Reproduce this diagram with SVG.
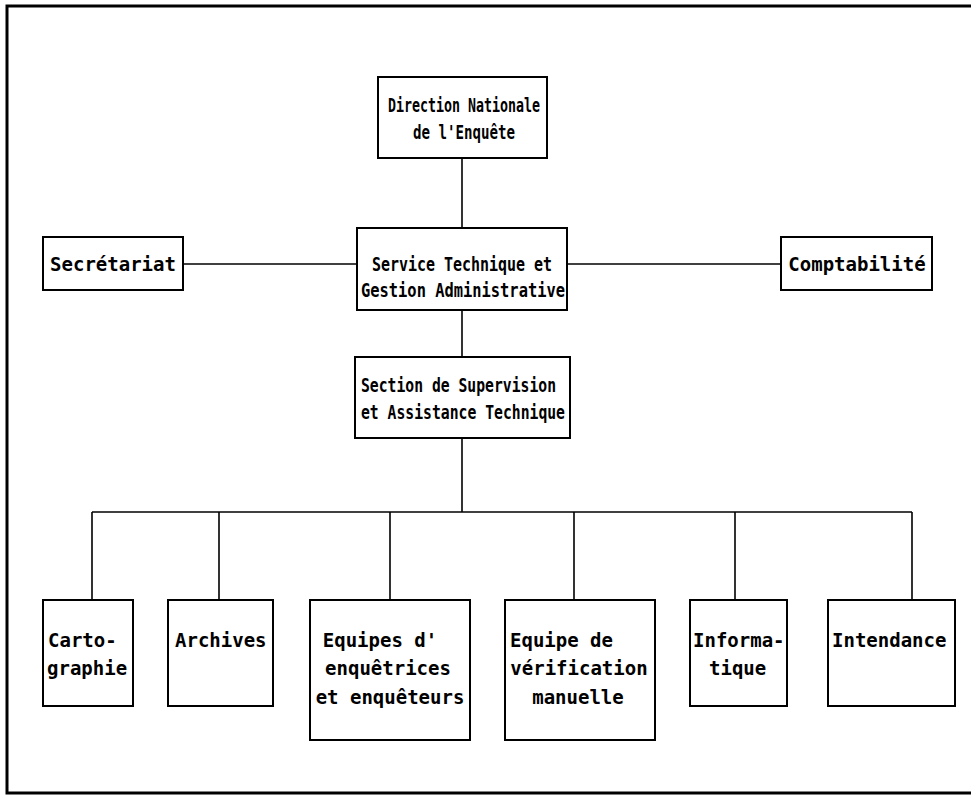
<svg xmlns="http://www.w3.org/2000/svg" width="971" height="795" viewBox="0 0 971 795">
<style>
.bx{fill:#fff;stroke:#000;stroke-width:2}
.ln{stroke:#000;stroke-width:1.6;fill:none}
.fr{stroke:#000;stroke-width:3;fill:none}
text{font-family:"DejaVu Sans Mono","Liberation Mono",monospace;font-size:19px;font-weight:bold;fill:#000}
.c{text-anchor:middle}
</style>
<rect width="971" height="795" fill="#fff"/>
<g id="frame"><path class="fr" d="M971,6 H7 V793 H971"/></g>
<g id="connectors">
<path class="ln" d="M462,158 V228"/>
<path class="ln" d="M183,264 H357"/>
<path class="ln" d="M567,264 H781"/>
<path class="ln" d="M462,310 V357"/>
<path class="ln" d="M462,438 V512"/>
<path class="ln" d="M92,512 H912"/>
<path class="ln" d="M92,512 V600 M219,512 V600 M390,512 V600 M574,512 V600 M735,512 V600 M912,512 V600"/>
</g>
<g id="direction"><rect class="bx" x="378" y="77" width="169" height="81"/>
<text x="388" y="112" textLength="152" lengthAdjust="spacingAndGlyphs">Direction Nationale</text>
<text x="413" y="139" textLength="102" lengthAdjust="spacingAndGlyphs">de l'Enquête</text></g>
<g id="secretariat"><rect class="bx" x="43" y="237" width="140" height="53"/>
<text class="c" x="113" y="271">Secrétariat</text></g>
<g id="service"><rect class="bx" x="357" y="228" width="210" height="82"/>
<text x="372" y="271" textLength="180" lengthAdjust="spacingAndGlyphs">Service Technique et</text>
<text x="361" y="297" textLength="204" lengthAdjust="spacingAndGlyphs">Gestion Administrative</text></g>
<g id="comptabilite"><rect class="bx" x="781" y="237" width="151" height="53"/>
<text class="c" x="857" y="271">Comptabilité</text></g>
<g id="section"><rect class="bx" x="355" y="357" width="215" height="81"/>
<text x="361" y="392" textLength="195" lengthAdjust="spacingAndGlyphs">Section de Supervision</text>
<text x="361" y="419" textLength="204" lengthAdjust="spacingAndGlyphs">et Assistance Technique</text></g>
<g id="cartographie"><rect class="bx" x="43" y="600" width="90" height="106"/>
<text x="48" y="647">Carto-</text>
<text x="47" y="675">graphie</text></g>
<g id="archives"><rect class="bx" x="168" y="600" width="105" height="106"/>
<text x="175" y="647">Archives</text></g>
<g id="equipes"><rect class="bx" x="310" y="600" width="160" height="140"/>
<text class="c" x="380" y="647">Equipes d'</text>
<text class="c" x="388" y="675">enquêtrices</text>
<text class="c" x="390" y="704">et enquêteurs</text></g>
<g id="verification"><rect class="bx" x="505" y="600" width="150" height="140"/>
<text x="510" y="647">Equipe de</text>
<text class="c" x="579" y="675">vérification</text>
<text class="c" x="578" y="704">manuelle</text></g>
<g id="informatique"><rect class="bx" x="690" y="600" width="97" height="106"/>
<text x="693" y="647">Informa-</text>
<text x="709" y="675">tique</text></g>
<g id="intendance"><rect class="bx" x="828" y="600" width="127" height="106"/>
<text x="832" y="647">Intendance</text></g>
</svg>
